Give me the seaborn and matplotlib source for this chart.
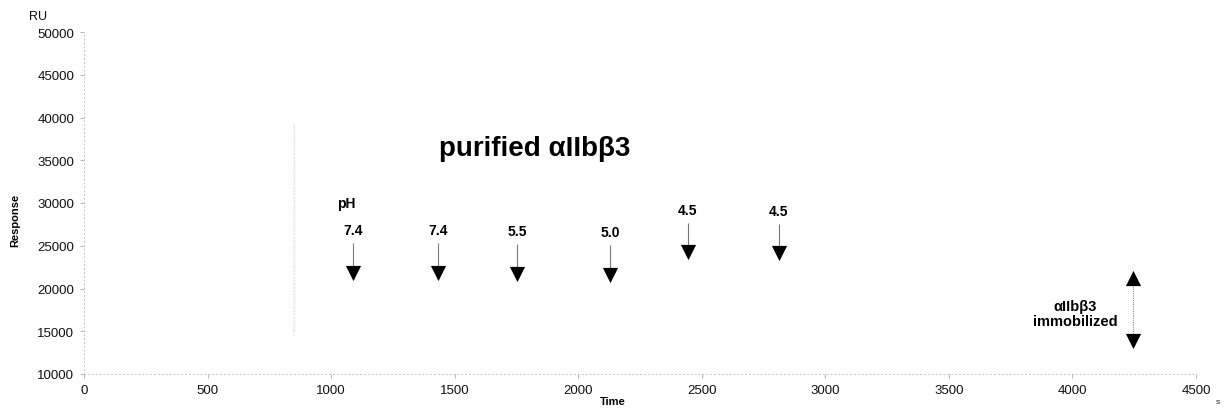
import matplotlib
matplotlib.use("Agg")
import matplotlib.pyplot as plt
import seaborn as sns
import pandas as pd

# Sensorgram trace (faint), time in s, response in RU
trace_time = [848, 850, 852, 854]
trace_resp = [14500, 39200, 38800, 14800]

# Injection markers: time, arrow tip response, pH label
inj_time = [1089, 1432, 1752, 2129, 2444, 2812]
inj_tip = [21000, 21000, 20900, 20800, 23400, 23300]
inj_ph = ["7.4", "7.4", "5.5", "5.0", "4.5", "4.5"]

# Immobilization level bracket
immob_time = 4245
immob_low = 13000
immob_high = 22000

x_ticks = [0, 500, 1000, 1500, 2000, 2500, 3000, 3500, 4000, 4500]
y_ticks = [10000, 15000, 20000, 25000, 30000, 35000, 40000, 45000, 50000]

sns.set_theme(style="white")
plt.rcParams["font.family"] = ["Liberation Sans", "DejaVu Sans"]
plt.rcParams["text.color"] = "black"

fig = plt.figure(figsize=(12.24, 4.10), dpi=100)
ax = fig.add_axes([84 / 1224, 1 - 375 / 410, (1196 - 84) / 1224, (375 - 33) / 410])

df = pd.DataFrame({"Time": trace_time, "Response": trace_resp})
sns.lineplot(data=df, x="Time", y="Response", ax=ax, color="#d8d8d8",
             linewidth=0.8, linestyle=(0, (1, 2)), sort=False)

ax.set_xlim(0, 4500)
ax.set_ylim(10000, 50000)
ax.set_xticks(x_ticks)
ax.set_yticks(y_ticks)
ax.set_xticklabels([str(t) for t in x_ticks], fontsize=9.5, color="#111111")
ax.set_yticklabels([str(t) for t in y_ticks], fontsize=9.5, color="#111111")
ax.tick_params(axis="both", length=3, width=0.6, color="#aaaaaa", pad=4,
               bottom=True, left=True)

for side in ["top", "right"]:
    ax.spines[side].set_visible(False)
for side in ["left", "bottom"]:
    ax.spines[side].set_color("#c4c4c4")
    ax.spines[side].set_linewidth(0.7)
    ax.spines[side].set_linestyle((0, (1, 3)))

ax.set_xlabel("")
ax.set_ylabel("")
fig.text(613 / 1224, 1 - 402 / 410, "Time", fontsize=8, fontweight="bold",
         ha="center", va="center")
fig.text(15 / 1224, 1 - 220 / 410, "Response", fontsize=8, fontweight="bold",
         ha="center", va="center", rotation=90)
fig.text(38 / 1224, 1 - 17 / 410, "RU", fontsize=9, ha="center", va="center",
         color="#111111")
fig.text(1218 / 1224, 1 - 403 / 410, "s", fontsize=6, ha="center",
         va="center", color="#222222")

# Title inside the plotting area
ax.text(1825, 36400, "purified \u03b1IIb\u03b23", fontsize=20, fontweight="bold",
        ha="center", va="center")

# pH header
ax.text(1060, 30000, "pH", fontsize=10, fontweight="bold", ha="center",
        va="center")

# Injection arrows
head_h = 1500
for t, tip, lab in zip(inj_time, inj_tip, inj_ph):
    ax.vlines(t, tip + head_h, tip + 4300, color="#777777", linewidth=0.8)
    ax.scatter([t], [tip + head_h * 0.55], marker="v", s=120, color="black",
               linewidths=0, zorder=3)
    ax.text(t, tip + 5800, lab, fontsize=10, fontweight="bold",
            ha="center", va="center")

# Immobilization bracket
ax.vlines(immob_time, immob_low + head_h, immob_high - head_h,
          color="#888888", linewidth=0.8, linestyle=(0, (1, 1)))
ax.scatter([immob_time], [immob_high - head_h * 0.55], marker="^", s=120,
           color="black", linewidths=0, zorder=3)
ax.scatter([immob_time], [immob_low + head_h * 0.55], marker="v", s=120,
           color="black", linewidths=0, zorder=3)
ax.text(immob_time - 235, 17100, "\u03b1IIb\u03b23\nimmobilized", fontsize=10.5,
        fontweight="bold", ha="center", va="center", linespacing=1.1)

fig.savefig("out.png", dpi=100)
